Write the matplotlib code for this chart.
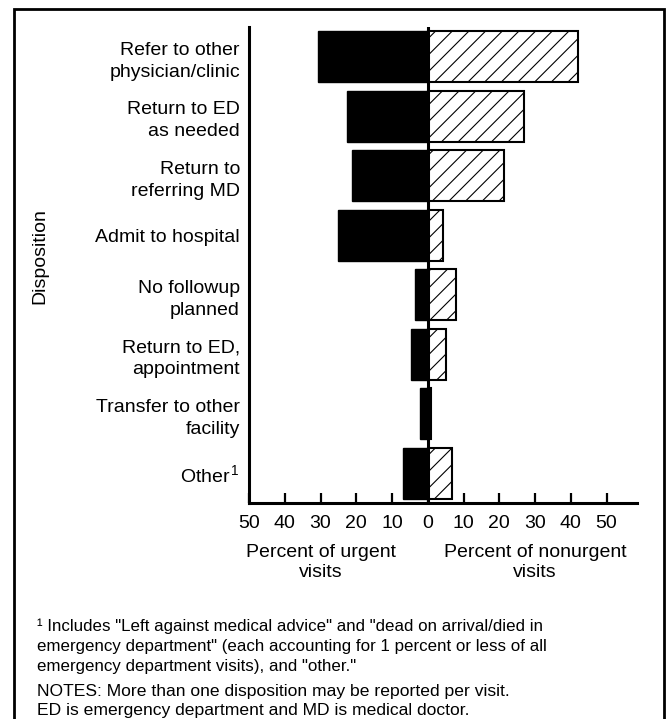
import matplotlib
matplotlib.use("Agg")
import matplotlib.pyplot as plt
from matplotlib.patches import Rectangle

plt.rcParams['font.family'] = ['Liberation Sans', 'DejaVu Sans']
plt.rcParams['mathtext.fontset'] = 'custom'
plt.rcParams['mathtext.rm'] = 'Liberation Sans'
plt.rcParams['mathtext.it'] = 'Liberation Sans:italic'
plt.rcParams['hatch.linewidth'] = 0.8

# data
categories = [
    "Refer to other\nphysician/clinic",
    "Return to ED\nas needed",
    "Return to\nreferring MD",
    "Admit to hospital",
    "No followup\nplanned",
    "Return to ED,\nappointment",
    "Transfer to other\nfacility",
    "Other$^{\\,1}$",
]
urgent = [30.8, 22.6, 21.1, 25.0, 3.6, 4.7, 2.2, 6.8]
nonurgent = [41.9, 27.0, 21.2, 4.3, 7.8, 5.2, 0.8, 6.7]

xticks = [-50, -40, -30, -20, -10, 0, 10, 20, 30, 40, 50]
xtick_labels = ["50", "40", "30", "20", "10", "0", "10", "20", "30", "40", "50"]

footnote = ('\u00b9 Includes "Left against medical advice" and "dead on arrival/died in\n'
            'emergency department" (each accounting for 1 percent or less of all\n'
            'emergency department visits), and "other."')
notes = ('NOTES: More than one disposition may be reported per visit.\n'
         'ED is emergency department and MD is medical doctor.')

W, H = 668, 719
fig = plt.figure(figsize=(W / 100, H / 100), dpi=100)
ax = fig.add_axes([249 / W, 1 - 503 / H, 388 / W, 476 / H])

pos = list(range(len(categories)))
ax.barh(pos, [-u for u in urgent], height=0.865, color='black',
        edgecolor='black', linewidth=1, zorder=2)
ax.barh(pos, nonurgent, height=0.865, color='white', edgecolor='black',
        hatch='//', linewidth=1.5, zorder=2)
ax.axvline(0, color='black', linewidth=2.2, zorder=3)

ax.set_xlim(-50, 58.5)
ax.set_ylim(len(categories) - 0.5, -0.5)

for s in ['top', 'right']:
    ax.spines[s].set_visible(False)
for s in ['left', 'bottom']:
    ax.spines[s].set_linewidth(2.2)

ax.set_xticks(xticks, xtick_labels)
ax.tick_params(axis='x', direction='in', length=7.5, width=1.6,
               labelsize=14, pad=9)
ax.set_yticks(pos, categories)
ax.tick_params(axis='y', length=0, labelsize=14, pad=6.5)
for t in ax.get_yticklabels():
    t.set_linespacing(1.4)

# axis texts
fig.text(40 / W, 1 - 256 / H, 'Disposition', rotation=90, fontsize=14,
         ha='center', va='center')
fig.text(321 / W, 1 - 544 / H, 'Percent of urgent\nvisits', fontsize=14,
         ha='center', va='top', linespacing=1.25)
fig.text(535 / W, 1 - 544 / H, 'Percent of nonurgent\nvisits', fontsize=14,
         ha='center', va='top', linespacing=1.25)

# notes
fig.text(37 / W, 1 - 619 / H, footnote, fontsize=12.2, ha='left',
         va='top', linespacing=1.38)
fig.text(37 / W, 1 - 684 / H, notes, fontsize=12.6, ha='left',
         va='top', linespacing=1.33)

# frame
fig.patches.append(Rectangle((14 / W, -0.05), 649.5 / W, 1 - 8.7 / H + 0.05,
                             transform=fig.transFigure, fill=False,
                             edgecolor='black', linewidth=2))

fig.savefig('out.png', dpi=100)
